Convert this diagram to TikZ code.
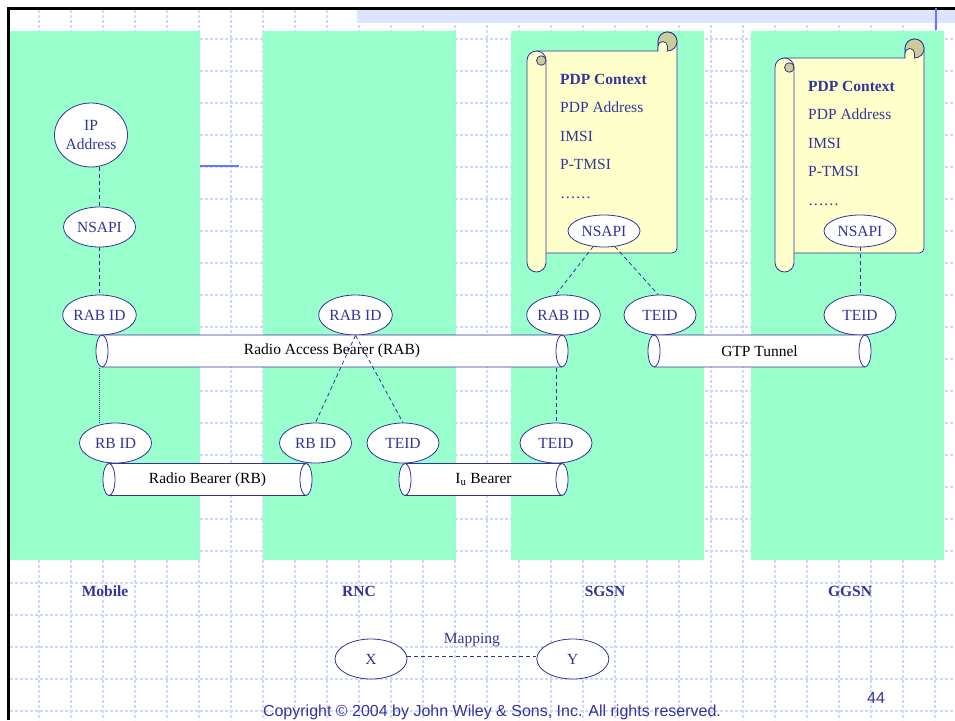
\documentclass[tikz,border=0pt]{standalone}
\usepackage{fontspec}
\setmainfont{Liberation Serif}
\newfontfamily\slidesans{Liberation Sans}
\definecolor{ink}{RGB}{51,51,153}
\definecolor{mint}{RGB}{153,255,204}
\definecolor{paper}{RGB}{255,255,204}
\definecolor{curl}{RGB}{204,204,153}
\definecolor{gridblue}{RGB}{204,216,252}
\definecolor{stripblue}{RGB}{220,228,255}
\definecolor{markblue}{RGB}{102,119,255}
\usetikzlibrary{shapes.geometric, positioning}

\begin{document}
\begin{tikzpicture}[x=1pt, y=-1pt,
    oval/.style={ellipse, draw=ink, fill=white, text=ink, line width=0.8pt,
                 inner sep=0pt, minimum width=72pt, minimum height=40pt,
                 font=\fontsize{15.5}{19}\selectfont},
    pipe/.style={inner sep=0pt, minimum height=34pt, text=black,
                 font=\fontsize{15.5}{19}\selectfont,
                 path picture={
                   \coordinate (pp-a) at ([xshift=7pt,yshift=1pt]path picture bounding box.south west);
                   \coordinate (pp-b) at ([xshift=-7pt,yshift=-1pt]path picture bounding box.north east);
                   \filldraw[draw=ink, fill=white, line width=0.8pt]
                     (pp-a) -- (pp-a -| pp-b)
                     arc[start angle=-90, end angle=90, x radius=6pt, y radius=16pt]
                     -- (pp-a |- pp-b)
                     arc[start angle=90, end angle=270, x radius=6pt, y radius=16pt] -- cycle;
                   \draw[ink, line width=0.8pt] (pp-a -| pp-b)
                     arc[start angle=-90, end angle=-270, x radius=6pt, y radius=16pt];
                   \draw[ink, line width=0.8pt] (pp-a)
                     arc[start angle=-90, end angle=90, x radius=6pt, y radius=16pt];
                 }},
    link/.style={draw=ink, line width=0.8pt, dash pattern=on 4pt off 3pt},
    linkdot/.style={draw=ink, line width=0.6pt, dash pattern=on 1pt off 1pt},
    ctx/.style={anchor=north west, align=left, inner sep=0pt, text=ink,
                font=\fontsize{15.5}{28.5}\selectfont},
    tag/.style={text=ink, font=\fontsize{15.5}{19}\selectfont\bfseries},
    sheet/.style={draw=ink, fill=paper, line width=0.8pt},
    gridline/.style={gridblue, line width=1.2pt, dash pattern=on 3pt off 2pt}
  ]
  \useasboundingbox (0,0) rectangle (955,720);
  \clip (0,0) rectangle (955,720);

  % slide background
  \foreach \gx in {39,71,...,955}
    \draw[gridline] (\gx,10) -- (\gx,720);
  \foreach \gy in {39,71,...,720}
    \draw[gridline] (10,\gy) -- (955,\gy);
  \fill[stripblue] (357,10) rectangle (955,23);
  \draw[line width=3pt] (8.5,720) -- (8.5,8.5) -- (955,8.5);
  \draw[markblue, line width=1.5pt] (936,8) -- (936,30);
  \draw[markblue, line width=1.2pt] (200,166) -- (239,166);

  \foreach \ca/\cb in {10/200, 263/456, 511/704, 751/944}
    \fill[mint] (\ca,31) rectangle (\cb,560);

  % PDP context scrolls
  \foreach \xa/\ya/\xb/\yb in {527/32/677/272, 775/39/924/272} {
    \filldraw[sheet] (\xa+9.5,\ya+19) -- (\xb-19,\ya+19) -- (\xb-19,\ya+9.5)
      arc[start angle=180, end angle=0, radius=9.5pt] -- (\xb,\yb-23.75)
      arc[start angle=0, end angle=-90, radius=4.75pt] -- (\xa+9.5,\yb-19) -- cycle;
    \filldraw[sheet, fill=curl] (\xb-9.5,\ya+9.5) circle[radius=9.5pt];
    \filldraw[sheet] (\xb-19,\ya+19) -- (\xb-19,\ya+14.25)
      arc[start angle=180, end angle=0, radius=4.75pt] -- (\xb-9.5,\ya+19);
    \filldraw[sheet] (\xa,\ya+28.5) arc[start angle=180, end angle=0, radius=9.5pt]
      -- (\xa+19,\yb-9.5) arc[start angle=0, end angle=-180, radius=9.5pt] -- cycle;
    \filldraw[sheet, fill=curl] (\xa+14.25,\ya+28.5) circle[radius=4.75pt];
  }
  \node[ctx] (sg-ctx) at (560,74)
    {\textbf{PDP Context}\\PDP Address\\IMSI\\P-TMSI\\……};
  \node[ctx] (gg-ctx) at (808,81)
    {\textbf{PDP Context}\\PDP Address\\IMSI\\P-TMSI\\……};

  % Mobile
  \node[oval, minimum width=73pt, minimum height=64pt, align=center] (ip) at (91,135) {IP\\Address};
  \node[oval] (mo-nsapi) at (99.5,227) {NSAPI};
  \node[oval] (mo-rab) at (99.5,315) {RAB ID};
  \node[oval] (mo-rb) at (115.5,443) {RB ID};
  % RNC
  \node[oval] (rnc-rab) at (355.5,315) {RAB ID};
  \node[oval] (rnc-rb) at (315.5,443) {RB ID};
  \node[oval] (rnc-teid) at (403,443) {TEID};
  % SGSN
  \node[oval, minimum height=32pt] (sg-nsapi) at (604,231) {NSAPI};
  \node[oval] (sg-rab) at (563.5,315) {RAB ID};
  \node[oval] (sg-teid) at (660,315) {TEID};
  \node[oval] (sg-iu) at (556,443) {TEID};
  % GGSN
  \node[oval, minimum height=32pt] (gg-nsapi) at (860,231) {NSAPI};
  \node[oval] (gg-teid) at (860,315) {TEID};

  % bearers
  \node[pipe, minimum width=474pt] (rab) at (332,351) {Radio Access Bearer (RAB)};
  \node[pipe, minimum width=225pt] (gtp) at (759.5,351) {GTP Tunnel};
  \node[pipe, minimum width=211pt] (rb) at (207.5,479.5) {Radio Bearer (RB)};
  \node[pipe, minimum width=171pt] (iu) at (483.5,479.5) {I\textsubscript{u} Bearer};

  \draw[link] (ip.south -| mo-nsapi.north) -- (mo-nsapi.north);
  \draw[link] (mo-nsapi) -- (mo-rab);
  \draw[linkdot] (rab.south -| mo-rab) -- (mo-rb.north -| mo-rab);
  \draw[link] (rnc-rab.south) -- (rnc-rb.north);
  \draw[link] (rnc-rab.south) -- (rnc-teid.north);
  \draw[link] (sg-nsapi.235) -- (sg-rab.112);
  \draw[link] (sg-nsapi.305) -- (sg-teid.95);
  \draw[link] (rab.south -| sg-iu) -- (sg-iu);
  \draw[link] (gg-nsapi) -- (gg-teid);

  \node[tag] (lbl-mo) at (105,591) {Mobile};
  \node[tag] (lbl-rnc) at (359,591) {RNC};
  \node[tag] (lbl-sg) at (605,591) {SGSN};
  \node[tag] (lbl-gg) at (850,591) {GGSN};

  % legend
  \node[oval] (mx) at (371,659) {X};
  \node[oval, right=129pt of mx] (my) {Y};
  \draw[link] ([yshift=3pt]mx.east) -- node[above=9pt, inner sep=0pt, text=ink,
    font=\fontsize{15.5}{19}\selectfont] {Mapping} ([yshift=3pt]my.west);

  \node[anchor=base, text=ink, font=\slidesans\fontsize{16}{19}\selectfont] (page) at (876,703) {44};
  \node[anchor=base, text=ink, font=\slidesans\fontsize{16}{19}\selectfont] (copy) at (492,716)
    {Copyright © 2004 by John Wiley \& Sons, Inc. All rights reserved.};
\end{tikzpicture}
\end{document}
